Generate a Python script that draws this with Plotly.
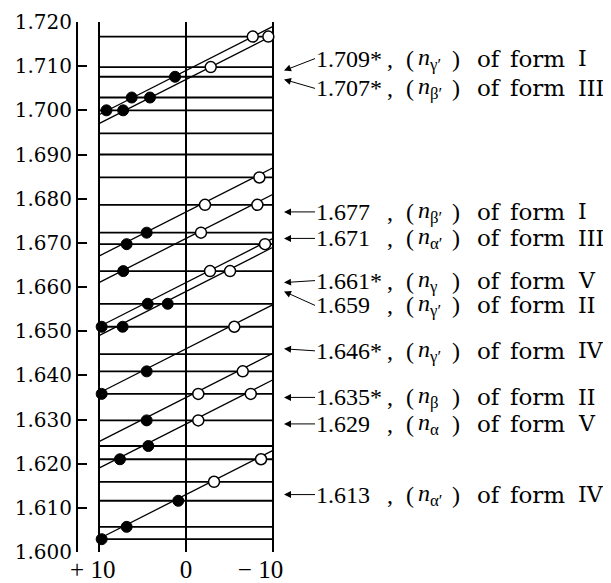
import plotly.graph_objects as go

# ---------------- data ----------------
y_tick_vals = [1.600, 1.610, 1.620, 1.630, 1.640, 1.650, 1.660,
               1.670, 1.680, 1.690, 1.700, 1.710, 1.720]
y_tick_text = ["1.600", "1.610", "1.620", "1.630", "1.640", "1.650", "1.660",
               "1.670", "1.680", "1.690", "1.700", "1.710", "1.720"]
x_tick_vals = [10, 0, -10]
x_tick_text = ["+ 10\u2002", "0", "\u2212 10\u2003"]

# refractive indices of the immersion liquids (horizontal lines)
liquid_indices = [1.7167, 1.7098, 1.7076, 1.7029, 1.7000, 1.6948, 1.6900,
                  1.6848, 1.6786, 1.6723, 1.6697, 1.6636, 1.6562, 1.6510,
                  1.6448, 1.6409, 1.6358, 1.6298, 1.6240, 1.6210, 1.6159,
                  1.6116, 1.6057, 1.6029]

# fitted lines: value at x=0 (label), at x=+10 and at x=-10
line_values = [1.709, 1.707, 1.677, 1.671, 1.661, 1.659, 1.646, 1.635, 1.629, 1.613]
line_left = [1.699, 1.697, 1.667, 1.661, 1.651, 1.649, 1.636, 1.625, 1.619, 1.603]
line_right = [1.719, 1.717, 1.687, 1.681, 1.671, 1.669, 1.656, 1.645, 1.639, 1.623]

filled_x = [9.14, 7.22, 6.24, 4.14, 1.26,
            6.82, 4.52,
            7.21,
            9.69, 4.40,
            7.28, 2.10,
            9.69, 4.52,
            4.52,
            7.59, 4.33,
            9.69, 6.82, 0.89]
filled_y = [1.7000, 1.7000, 1.7029, 1.7029, 1.7076,
            1.6697, 1.6723,
            1.6636,
            1.6510, 1.6562,
            1.6510, 1.6562,
            1.6358, 1.6409,
            1.6298,
            1.6210, 1.6240,
            1.6029, 1.6057, 1.6116]

open_x = [-2.84, -7.67, -9.46,
          -2.18, -8.43,
          -1.72, -8.20,
          -2.76, -9.08,
          -5.06,
          -5.55,
          -1.41, -6.52,
          -1.41, -7.44,
          -3.22, -8.62]
open_y = [1.7098, 1.7167, 1.7167,
          1.6786, 1.6848,
          1.6723, 1.6786,
          1.6636, 1.6697,
          1.6636,
          1.6510,
          1.6358, 1.6409,
          1.6298, 1.6358,
          1.6159, 1.6210]

label_numbers = ["1.709*", "1.707*", "1.677", "1.671", "1.661*",
                 "1.659", "1.646*", "1.635*", "1.629", "1.613"]
label_subs = ["\u03b3\u2032", "\u03b2\u2032", "\u03b2\u2032", "\u03b1\u2032", "\u03b3",
              "\u03b3\u2032", "\u03b3\u2032", "\u03b2", "\u03b1", "\u03b1\u2032"]
label_forms = ["I", "III", "I", "III", "V", "II", "IV", "II", "V", "IV"]
# vertical offset (px, + = down) of each label from the point it marks
label_offsets = [-12, 9, 0, 0, -2, 14, 2, 0, 0, 0]

# ---------------- figure ----------------
# the page body has an 8 px margin, so the figure is drawn 8 px in from the corner
PAGE_OFF = 8
FIG_W, FIG_H = 611 - PAGE_OFF, 583 - PAGE_OFF
PLOT_LEFT, PLOT_RIGHT, PLOT_TOP, PLOT_BOTTOM = 78, 276, 22, 552  # page px

fig = go.Figure()

hx, hy = [], []
for v in liquid_indices:
    hx += [10, -10, None]
    hy += [v, v, None]
fig.add_trace(go.Scatter(x=hx, y=hy, mode="lines",
                         line=dict(color="black", width=1.8),
                         hoverinfo="skip", showlegend=False))

sx, sy = [], []
for a, b in zip(line_left, line_right):
    sx += [10, -10, None]
    sy += [a, b, None]
fig.add_trace(go.Scatter(x=sx, y=sy, mode="lines",
                         line=dict(color="black", width=1.3),
                         hoverinfo="skip", showlegend=False))

fig.add_trace(go.Scatter(x=filled_x, y=filled_y, mode="markers",
                         marker=dict(symbol="circle", size=11, color="black",
                                     line=dict(color="black", width=1)),
                         showlegend=False))
fig.add_trace(go.Scatter(x=open_x, y=open_y, mode="markers",
                         marker=dict(symbol="circle", size=11, color="white",
                                     line=dict(color="black", width=1.5)),
                         showlegend=False))

num_font = dict(family="Liberation Serif", size=24, color="black")
word_font = dict(family="DejaVu Serif", size=23, color="black")
roman_font = dict(family="DejaVu Serif", size=22, color="black")
annotations = []
for val, num, sub, form, off in zip(line_values, label_numbers, label_subs,
                                    label_forms, label_offsets):
    annotations.append(dict(
        x=1, xref="paper", xshift=284 - PLOT_RIGHT, y=val, yref="y",
        text=num, font=num_font, showarrow=True, ax=31, ay=off,
        axref="pixel", ayref="pixel", xanchor="left", yanchor="middle",
        arrowhead=2, arrowsize=1.4, arrowwidth=1, arrowcolor="black",
        borderpad=0))
    cols = [(",", 386, "left", num_font), ("(", 405, "left", num_font),
            ("<i>n</i><sub>" + sub + "</sub>", 417, "left", num_font),
            (")", 461, "right", num_font), ("of", 476, "left", word_font),
            ("form", 509, "left", word_font), (form, 577, "left", roman_font)]
    for txt, px, anc, fnt in cols:
        annotations.append(dict(
            x=1, xref="paper", xshift=px - PLOT_RIGHT, y=val, yref="y",
            yshift=-off, text=txt, font=fnt, showarrow=False,
            xanchor=anc, yanchor="middle", borderpad=0))

fig.update_layout(
    width=FIG_W, height=FIG_H, autosize=False,
    margin=dict(l=PLOT_LEFT - PAGE_OFF, r=FIG_W - (PLOT_RIGHT - PAGE_OFF),
                t=PLOT_TOP - PAGE_OFF, b=FIG_H - (PLOT_BOTTOM - PAGE_OFF),
                pad=0, autoexpand=False),
    paper_bgcolor="white", plot_bgcolor="white",
    annotations=annotations,
    xaxis=dict(range=[12.41, -10.34], tickvals=x_tick_vals, ticktext=x_tick_text,
               showgrid=True, gridcolor="black", gridwidth=2,
               showline=False, zeroline=False, ticks="", automargin=False,
               ticklabelstandoff=0,
               tickfont=dict(family="Liberation Serif", size=25, color="black")),
    yaxis=dict(range=[1.600, 1.720], tickvals=y_tick_vals, ticktext=y_tick_text,
               showgrid=False, zeroline=False, showline=True,
               linecolor="black", linewidth=2, automargin=False,
               ticks="inside", ticklen=9, tickwidth=2, tickcolor="black",
               ticklabelstandoff=0,
               tickfont=dict(family="DejaVu Serif", size=20, color="black")),
)

fig.write_html("out.html")
